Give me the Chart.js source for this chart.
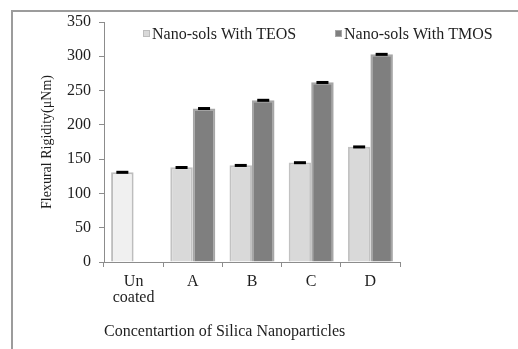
<!DOCTYPE html>
<html>
<head>
<meta charset="utf-8">
<script src="https://cdn.jsdelivr.net/npm/chart.js@4/dist/chart.umd.min.js"></script>
<style>
html,body{margin:0;padding:0;background:#fff;}
#wrap{width:518px;height:349px;position:relative;}
</style>
</head>
<body>
<div id="wrap"><canvas id="c" width="518" height="349"></canvas></div>
<script>
const categories = [["Un", "coated"], "A", "B", "C", "D"];
const seriesNames = ["Nano-sols With TEOS", "Nano-sols With TMOS"];
const teosValues = [131, 138, 141, 145, 168];
const tmosValues = [null, 224, 236, 262, 303];
const teosErrors = [2, 2, 2, 2, 2];
const tmosErrors = [null, 2, 2, 2, 2];
const yTicks = [0, 50, 100, 150, 200, 250, 300, 350];
const yTitle = "Flexural Rigidity(\u03bcNm)";
const xTitle = "Concentartion of Silica Nanoparticles";

const serif = "'Liberation Serif', 'DejaVu Serif', serif";
const textColor = "#1e1e1e";
const axisColor = "#8c8c8c";

const errorsByDataset = [teosErrors, tmosErrors];

const framePlugin = {
  id: 'frame',
  beforeDraw(chart) {
    const ctx = chart.ctx;
    ctx.save();
    ctx.fillStyle = '#ffffff';
    ctx.fillRect(0, 0, chart.width, chart.height);
    ctx.strokeStyle = '#9c9c9c';
    ctx.lineWidth = 2;
    ctx.beginPath();
    ctx.moveTo(12, chart.height);
    ctx.lineTo(12, 11);
    ctx.lineTo(chart.width, 11);
    ctx.stroke();
    ctx.restore();
  }
};

const errorBarPlugin = {
  id: 'errorBars',
  afterDatasetsDraw(chart) {
    const ctx = chart.ctx;
    const y = chart.scales.y;
    ctx.save();
    ctx.fillStyle = '#000000';
    chart.data.datasets.forEach((ds, di) => {
      const meta = chart.getDatasetMeta(di);
      const errs = errorsByDataset[di];
      meta.data.forEach((bar, i) => {
        const v = ds.data[i];
        const e = errs[i];
        if (v == null || e == null) return;
        const top = y.getPixelForValue(v + e);
        const bot = y.getPixelForValue(v - e);
        ctx.fillRect(bar.x - 6, top, 12, Math.max(3, bot - top));
      });
    });
    ctx.restore();
  }
};

const legendPlugin = {
  id: 'overlayLegend',
  afterDraw(chart) {
    const ctx = chart.ctx;
    const starts = [143, 335];
    const cy = 34;
    ctx.save();
    ctx.font = "16px " + serif;
    ctx.textBaseline = 'middle';
    ctx.textAlign = 'left';
    chart.data.datasets.forEach((ds, di) => {
      const x = starts[di];
      ctx.fillStyle = ds.legendFill;
      ctx.fillRect(x, cy - 4, 7, 7);
      ctx.strokeStyle = ds.legendBorder;
      ctx.lineWidth = 1;
      ctx.strokeRect(x + 0.5, cy - 3.5, 6, 6);
      ctx.fillStyle = textColor;
      ctx.fillText(ds.label, x + 9, cy + 1);
    });
    ctx.restore();
  }
};

new Chart(document.getElementById('c'), {
  type: 'bar',
  data: {
    labels: categories,
    datasets: [
      {
        label: seriesNames[0],
        data: teosValues,
        backgroundColor: (c) => c.dataIndex === 0 ? '#f0f0f0' : '#d9d9d9',
        borderColor: (c) => c.dataIndex === 0 ? '#bdbdbd' : '#c2c2c2',
        borderWidth: 2,
        borderSkipped: 'bottom',
        legendFill: '#d9d9d9',
        legendBorder: '#bdbdbd',
        categoryPercentage: 0.76,
        barPercentage: 1.0
      },
      {
        label: seriesNames[1],
        data: tmosValues,
        backgroundColor: '#7f7f7f',
        borderColor: '#a6a6a6',
        borderWidth: 2,
        borderSkipped: 'bottom',
        legendFill: '#7f7f7f',
        legendBorder: '#a6a6a6',
        categoryPercentage: 0.76,
        barPercentage: 1.0
      }
    ]
  },
  options: {
    responsive: false,
    animation: false,
    devicePixelRatio: 1,
    layout: { padding: { left: 35, right: 118, top: 22, bottom: 4 } },
    plugins: {
      legend: { display: false },
      tooltip: { enabled: false }
    },
    scales: {
      x: {
        offset: true,
        grid: {
          offset: true,
          drawOnChartArea: false,
          drawTicks: true,
          tickLength: 5,
          color: axisColor
        },
        border: { color: axisColor, width: 1 },
        ticks: {
          font: { family: serif, size: 16, lineHeight: 1.05 },
          color: textColor,
          padding: 6,
          maxRotation: 0
        },
        title: {
          display: true,
          text: xTitle,
          align: 'start',
          font: { family: serif, size: 16 },
          color: textColor,
          padding: { top: 4, bottom: 4 }
        },
        afterFit(scale) { scale.height = 83; }
      },
      y: {
        min: 0,
        max: 350,
        afterBuildTicks(scale) { scale.ticks = yTicks.map(v => ({ value: v })); },
        grid: {
          drawOnChartArea: false,
          drawTicks: true,
          tickLength: 5,
          color: axisColor
        },
        border: { color: axisColor, width: 1 },
        ticks: {
          font: { family: serif, size: 16 },
          color: textColor,
          padding: 8
        },
        title: {
          display: true,
          text: yTitle,
          font: { family: serif, size: 14 },
          color: textColor,
          padding: { top: 4, bottom: 4 }
        },
        afterFit(scale) { scale.width = 69; }
      }
    }
  },
  plugins: [framePlugin, errorBarPlugin, legendPlugin]
});
</script>
</body>
</html>
